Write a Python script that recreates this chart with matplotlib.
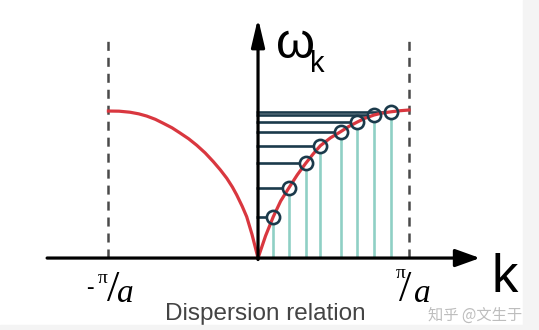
import matplotlib
matplotlib.use("Agg")
import matplotlib.pyplot as plt
from matplotlib.patches import Rectangle

# k in units of pi/a, omega in units of omega_max
curve_right_k = [0.0, 0.05, 0.101, 0.15, 0.205, 0.26, 0.316, 0.365, 0.413, 0.48, 0.548, 0.6, 0.658, 0.71, 0.768, 0.82, 0.881, 0.94, 1.0]
curve_right_w = [0.0, 0.15, 0.279, 0.385, 0.475, 0.562, 0.64, 0.703, 0.759, 0.812, 0.854, 0.888, 0.919, 0.945, 0.966, 0.979, 0.988, 0.995, 1.0]
curve_left_k = [-0.991, -0.92, -0.848, -0.79, -0.737, -0.68, -0.627, -0.57, -0.517, -0.46, -0.406, -0.35, -0.296, -0.25, -0.207, -0.17, -0.141, -0.105, -0.075, -0.04, 0.0]
curve_left_w = [0.993, 0.992, 0.985, 0.974, 0.959, 0.937, 0.910, 0.880, 0.845, 0.806, 0.762, 0.71, 0.651, 0.596, 0.539, 0.48, 0.426, 0.35, 0.279, 0.16, 0.0]

# sampled modes (circles)
mode_k = [0.101, 0.205, 0.316, 0.413, 0.548, 0.658, 0.768, 0.881]
mode_w = [0.279, 0.475, 0.64, 0.759, 0.854, 0.919, 0.966, 0.988]

zone_edges = [-0.993, 1.0]

navy = "#1b3a4b"
teal = "#8fd0c5"
red = "#d9373f"

plt.rcParams["lines.scale_dashes"] = False

fig = plt.figure(figsize=(5.39, 3.30), dpi=100)
ax = fig.add_axes([0, 0, 1, 1])
ax.set_xlim(-1.709, 1.861)
ax.set_ylim(-0.486, 1.743)
ax.axis("off")

# light grey scan borders
fig.patches.append(Rectangle((523 / 539, 0), 1, 1, transform=fig.transFigure,
                             color="#f4f4f4", zorder=0))
fig.patches.append(Rectangle((0, 0), 1, 5 / 330, transform=fig.transFigure,
                             color="#f4f4f4", zorder=0))

# Brillouin zone boundaries
for kb in zone_edges:
    ax.plot([kb, kb], [0, 1.49], color="#4a4a4a", lw=1.8, dashes=(6.5, 5), zorder=1)

# mode lines (stop at circle edge)
r_k = 6.5 / 151
r_w = 6.5 / 148
for k, w in zip(mode_k, mode_w):
    ax.plot([-0.015, k - r_k], [w, w], color=navy, lw=1.9, solid_capstyle="butt", zorder=2)
    ax.plot([k, k], [0, w - r_w], color=teal, lw=1.9, solid_capstyle="butt", zorder=2)

# dispersion curve
ax.plot(curve_left_k, curve_left_w, color=red, lw=2.3, zorder=3, solid_joinstyle="round")
ax.plot(curve_right_k, curve_right_w, color=red, lw=2.3, zorder=3, solid_joinstyle="round")

ax.plot(mode_k, mode_w, "o", ms=9.5, mfc="none", mec=navy, mew=1.9, zorder=4)

# axes with arrows
ax.annotate("", xy=(1.47, 0), xytext=(-1.397, 0),
            arrowprops=dict(arrowstyle="-|>,head_length=0.75,head_width=0.27",
                            mutation_scale=20, lw=2.3, color="black",
                            shrinkA=0, shrinkB=0), zorder=5)
ax.annotate("", xy=(0, 1.62), xytext=(0, -0.01),
            arrowprops=dict(arrowstyle="-|>,head_length=0.85,head_width=0.2",
                            mutation_scale=20, lw=2.3, color="black",
                            shrinkA=0, shrinkB=0), zorder=5)

sans = ["Liberation Sans", "DejaVu Sans"]
serif = ["Liberation Serif", "DejaVu Serif"]

ax.text(0.12, 1.351, "ω", fontsize=36, family=sans, va="baseline", ha="left")
ax.text(0.345, 1.257, "k", fontsize=21, family=sans, va="baseline", ha="left")
ax.text(1.545, -0.23, "k", fontsize=38, family=sans, va="baseline", ha="left")

# -pi/a
ax.text(-1.113, -0.203, "-", fontsize=16, family=serif, ha="center", va="center")
ax.text(-1.03, -0.169, "π", fontsize=14, family=serif, ha="center", va="baseline")
ax.text(-0.957, -0.29, "/", fontsize=32, family=serif, ha="center", va="baseline")
ax.text(-0.877, -0.297, "a", fontsize=24, family=serif, style="italic", ha="center", va="baseline")
# pi/a
ax.text(0.947, -0.135, "π", fontsize=14, family=serif, ha="center", va="baseline")
ax.text(0.975, -0.29, "/", fontsize=32, family=serif, ha="center", va="baseline")
ax.text(1.089, -0.297, "a", fontsize=24, family=serif, style="italic", ha="center", va="baseline")

ax.text(0.046, -0.419, "Dispersion relation", fontsize=17.5,
        family=["Liberation Sans Narrow", "Liberation Sans", "DejaVu Sans"],
        color="#444444", ha="center", va="baseline")

ax.text(1.126, -0.419, "知乎 @文生于", fontsize=11,
        family=["Noto Sans CJK SC", "DejaVu Sans"], color="#bdbdbd",
        ha="left", va="baseline")

fig.savefig("out.png", dpi=100)
